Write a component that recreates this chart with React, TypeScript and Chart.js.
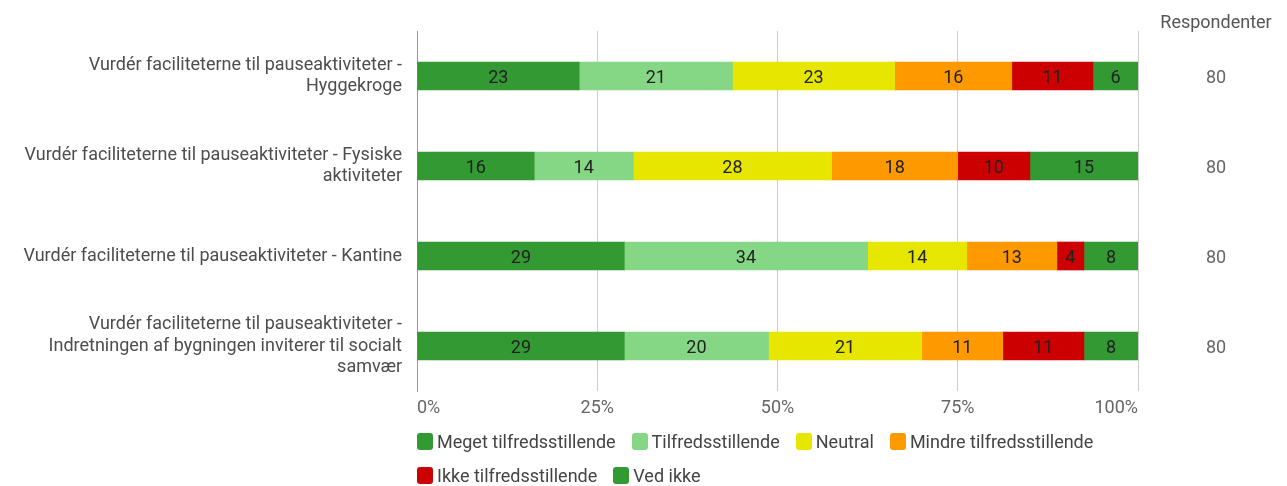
import React, { useEffect, useRef } from 'react';
import { Chart, registerables } from 'chart.js';

Chart.register(...registerables);

const categories: string[][] = [
  ['Vurdér faciliteterne til pauseaktiviteter -', 'Hyggekroge'],
  ['Vurdér faciliteterne til pauseaktiviteter - Fysiske', 'aktiviteter'],
  ['Vurdér faciliteterne til pauseaktiviteter - Kantine'],
  ['Vurdér faciliteterne til pauseaktiviteter -', 'Indretningen af bygningen inviterer til socialt', 'samvær'],
];

const seriesNames = [
  'Meget tilfredsstillende',
  'Tilfredsstillende',
  'Neutral',
  'Mindre tilfredsstillende',
  'Ikke tilfredsstillende',
  'Ved ikke',
];

const seriesColors = ['#339933', '#85d685', '#e6e600', '#ff9900', '#cc0000', '#339933'];

// response counts per category
const megetTilfreds = [18, 13, 23, 23];
const tilfreds = [17, 11, 27, 16];
const neutral = [18, 22, 11, 17];
const mindreTilfreds = [13, 14, 10, 9];
const ikkeTilfreds = [9, 8, 3, 9];
const vedIkke = [5, 12, 6, 6];

const respondents = [80, 80, 80, 80];
const xTickValues = [0, 25, 50, 75, 100];

const seriesCounts = [megetTilfreds, tilfreds, neutral, mindreTilfreds, ikkeTilfreds, vedIkke];

const FONT = 'Roboto, "Noto Sans", sans-serif';

export default function App() {
  const canvasRef = useRef<HTMLCanvasElement | null>(null);

  useEffect(() => {
    document.body.style.margin = '0';
    const canvas = canvasRef.current;
    if (!canvas) return;

    const datasets = seriesCounts.map((counts, si) => ({
      label: seriesNames[si],
      data: counts.map((c, i) => (c / respondents[i]) * 100),
      backgroundColor: seriesColors[si],
      borderWidth: 0,
      barThickness: 28,
    }));

    const valueLabels = {
      id: 'valueLabels',
      afterDatasetsDraw(chart: any) {
        const ctx = chart.ctx;
        ctx.save();
        ctx.font = `18px ${FONT}`;
        ctx.fillStyle = '#222222';
        ctx.textAlign = 'center';
        ctx.textBaseline = 'alphabetic';
        chart.data.datasets.forEach((ds: any, di: number) => {
          const meta = chart.getDatasetMeta(di);
          meta.data.forEach((el: any, i: number) => {
            const v = ds.data[i];
            if (!v) return;
            const cx = (el.x + el.base) / 2;
            ctx.fillText(String(Math.round(v)), cx, el.y + 7);
          });
        });
        ctx.restore();
      },
    };

    const respondentColumn = {
      id: 'respondentColumn',
      afterDraw(chart: any) {
        const ctx = chart.ctx;
        const area = chart.chartArea;
        const yScale = chart.scales.y;
        ctx.save();
        ctx.font = `18px ${FONT}`;
        ctx.textAlign = 'center';
        ctx.textBaseline = 'alphabetic';
        ctx.fillStyle = '#555555';
        ctx.fillText('Respondenter', area.right + 78, 28);
        ctx.fillStyle = '#666666';
        respondents.forEach((r, i) => {
          ctx.fillText(String(r), area.right + 78, yScale.getPixelForValue(i) + 6.5);
        });
        ctx.restore();
      },
    };

    const chart = new Chart(canvas, {
      type: 'bar',
      data: { labels: categories as any, datasets },
      options: {
        animation: false,
        responsive: false,
        indexAxis: 'y',
        layout: { padding: { top: 31, right: 149, bottom: 65, left: 0 } },
        plugins: {
          legend: { display: false },
          tooltip: { enabled: false },
        },
        scales: {
          x: {
            stacked: true,
            min: 0,
            max: 100,
            afterBuildTicks(scale: any) {
              scale.ticks = xTickValues.map((v) => ({ value: v }));
            },
            afterFit(scale: any) {
              scale.height = 30;
              scale.paddingLeft = 0;
              scale.paddingRight = 0;
            },
            ticks: {
              padding: 7,
              align: 'inner',
              maxRotation: 0,
              color: '#666666',
              font: { family: FONT, size: 18 },
              callback: (v: any) => `${v}%`,
            },
            grid: { color: '#cccccc', drawTicks: false, lineWidth: 1 },
            border: { display: false },
          },
          y: {
            stacked: true,
            afterFit(scale: any) {
              scale.width = 417;
              scale.paddingTop = 0;
              scale.paddingBottom = 0;
            },
            ticks: {
              padding: 15,
              color: '#4d4d4d',
              font: { family: FONT, size: 18, lineHeight: 1.17 },
            },
            grid: { display: false, drawTicks: false },
            border: { display: true, color: '#999999', width: 1 },
          },
        },
      },
      plugins: [valueLabels, respondentColumn],
    } as any);

    return () => chart.destroy();
  }, []);

  return (
    <div style={{ position: 'relative', width: 1287, height: 486, fontFamily: FONT }}>
      <canvas ref={canvasRef} width={1287} height={486} style={{ display: 'block', width: 1287, height: 486 }} />
      <div
        style={{
          position: 'absolute',
          left: 417,
          top: 433,
          width: 730,
          display: 'flex',
          flexWrap: 'wrap',
          rowGap: 17,
          columnGap: 16,
        }}
      >
        {seriesNames.map((name, i) => (
          <div key={name} style={{ display: 'flex', alignItems: 'center', height: 17 }}>
            <span
              style={{
                display: 'inline-block',
                width: 16,
                height: 17,
                borderRadius: 3,
                background: seriesColors[i],
                marginRight: 4,
                flex: '0 0 auto',
              }}
            />
            <span style={{ fontSize: 18, lineHeight: '17px', color: '#444444', whiteSpace: 'nowrap' }}>{name}</span>
          </div>
        ))}
      </div>
    </div>
  );
}
